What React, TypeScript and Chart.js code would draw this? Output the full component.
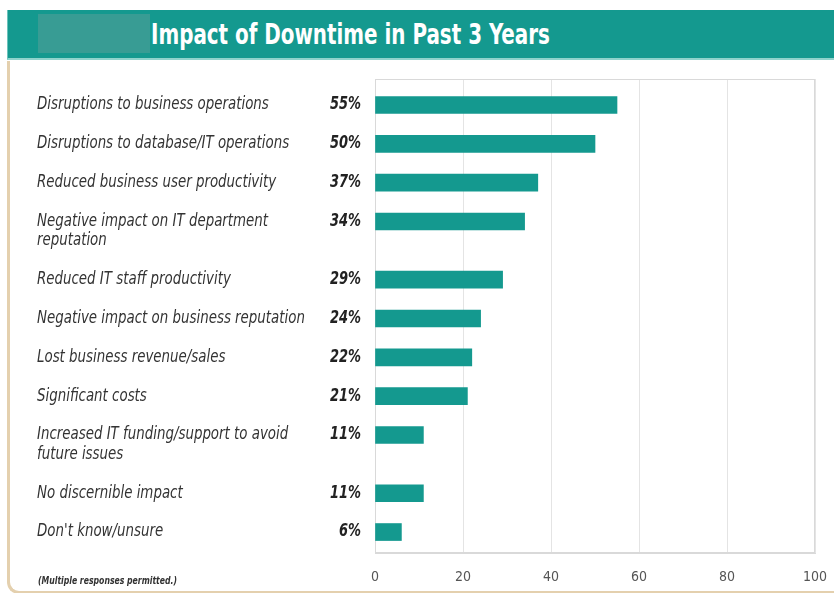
import React, { useEffect, useRef } from "react";
import { Chart, registerables } from "chart.js";

Chart.register(...registerables);

// ---------- data ----------
const chartTitle = "Impact of Downtime in Past 3 Years";
const categories: (string | string[])[] = [
  "Disruptions to business operations",
  "Disruptions to database/IT operations",
  "Reduced business user productivity",
  ["Negative impact on IT department", "reputation"],
  "Reduced IT staff productivity",
  "Negative impact on business reputation",
  "Lost business revenue/sales",
  "Significant costs",
  ["Increased IT funding/support to avoid", "future issues"],
  "No discernible impact",
  "Don't know/unsure",
];
const values = [55, 50, 37, 34, 29, 24, 22, 21, 11, 11, 6];
const valueLabels = values.map((v) => `${v}%`);
const xTickValues = [0, 20, 40, 60, 80, 100];
const footnote = "(Multiple responses permitted.)";

// row positions derived from how many lines each label takes
const lineCounts = categories.map((c) => (Array.isArray(c) ? c.length : 1));
const rowPositions: number[] = [];
{
  let acc = 0;
  lineCounts.forEach((n) => {
    rowPositions.push(acc);
    acc += 1 + 0.5 * (n - 1);
  });
}

const NARROW =
  '"Liberation Sans Narrow", "Arial Narrow", "DejaVu Sans Condensed", "Roboto Condensed", sans-serif';
const TEAL = "#14998f";

function squeezedText(
  ctx: CanvasRenderingContext2D,
  text: string,
  x: number,
  y: number,
  sx: number
) {
  ctx.save();
  ctx.translate(x, y);
  ctx.scale(sx, 1);
  ctx.fillText(text, 0, 0);
  ctx.restore();
}

const labelPlugin = {
  id: "rowLabels",
  beforeDatasetsDraw(chart: any) {
    const { ctx, chartArea } = chart;
    ctx.save();
    ctx.strokeStyle = "#d9d9d9";
    ctx.lineWidth = 1;
    ctx.strokeRect(
      Math.round(chartArea.left) + 0.5,
      Math.round(chartArea.top) + 0.5,
      Math.round(chartArea.right - chartArea.left) - 1,
      Math.round(chartArea.bottom - chartArea.top) - 1
    );
    ctx.restore();
  },
  afterDraw(chart: any) {
    const { ctx } = chart;
    const yScale = chart.scales.y;
    ctx.save();
    ctx.textBaseline = "middle";
    categories.forEach((cat, i) => {
      const y = yScale.getPixelForValue(rowPositions[i]);
      const lines = Array.isArray(cat) ? cat : [cat];
      ctx.font = `italic 17px ${NARROW}`;
      ctx.fillStyle = "#333333";
      ctx.textAlign = "left";
      lines.forEach((ln, k) => squeezedText(ctx, ln, 37, y + k * 19.5, 0.875));
      ctx.font = `italic bold 17px ${NARROW}`;
      ctx.fillStyle = "#222222";
      ctx.textAlign = "right";
      squeezedText(ctx, valueLabels[i], 361, y, 0.85);
    });
    ctx.font = `italic bold 10px ${NARROW}`;
    ctx.fillStyle = "#333333";
    ctx.textAlign = "left";
    squeezedText(ctx, footnote, 38, 581, 0.86);
    ctx.restore();
  },
};

export default function App() {
  const canvasRef = useRef<HTMLCanvasElement | null>(null);

  useEffect(() => {
    if (!canvasRef.current) return;
    const chart = new Chart(canvasRef.current, {
      type: "bar",
      data: {
        datasets: [
          {
            data: values.map((v, i) => ({ x: v, y: rowPositions[i] })),
            backgroundColor: TEAL,
            borderWidth: 0,
            barThickness: 17,
          },
        ],
      },
      options: {
        indexAxis: "y",
        responsive: false,
        animation: false,
        events: [],
        layout: { padding: { left: 375, right: 19, top: 79, bottom: 0 } },
        plugins: {
          legend: { display: false },
          tooltip: { enabled: false },
          title: { display: false },
        },
        scales: {
          x: {
            type: "linear",
            position: "bottom",
            min: 0,
            max: 100,
            afterBuildTicks: (scale: any) => {
              scale.ticks = xTickValues.map((v) => ({ value: v }));
            },
            afterFit: (scale: any) => {
              scale.height = 40;
            },
            ticks: {
              padding: 0,
              color: "#555555",
              font: { family: NARROW, size: 14 },
              maxRotation: 0,
              autoSkip: false,
            },
            grid: {
              color: "#e4e4e4",
              drawTicks: true,
              tickLength: 16,
              tickColor: "rgba(0,0,0,0)",
              lineWidth: 1,
            },
            border: { display: true, color: "#d9d9d9" },
          },
          y: {
            type: "linear",
            display: false,
            reverse: true,
            offset: false,
            min: -0.67,
            max: 11.54,
            grid: { display: false, offset: false },
          },
        },
      } as any,
      plugins: [labelPlugin],
    });
    return () => chart.destroy();
  }, []);

  return (
    <div
      style={{
        position: "fixed",
        left: 0,
        top: 0,
        width: 834,
        height: 593,
        overflow: "hidden",
        background: "#ffffff",
      }}
    >
      {/* title bar */}
      <div
        style={{
          position: "absolute",
          left: 7,
          top: 10,
          width: 827,
          height: 50,
          background: TEAL,
          borderLeft: "1px solid #6cc3bb",
          borderBottom: "2px solid #8fd3cc",
          boxSizing: "border-box",
        }}
      />
      <div
        style={{
          position: "absolute",
          left: 38,
          top: 14,
          width: 112,
          height: 39,
          background: "#389c94",
        }}
      />
      <div
        style={{
          position: "absolute",
          left: 151,
          top: 15,
          height: 40,
          lineHeight: "40px",
          color: "#ffffff",
          fontFamily: NARROW,
          fontWeight: "bold",
          fontSize: 28,
          whiteSpace: "nowrap",
          transform: "scaleX(0.79)",
          transformOrigin: "left center",
        }}
      >
        {chartTitle}
      </div>
      {/* left frame */}
      <div
        style={{
          position: "absolute",
          left: 7,
          top: 61,
          width: 900,
          height: 533,
          borderLeft: "3px solid #e4d0ae",
          borderBottom: "3px solid #e4d0ae",
          borderBottomLeftRadius: 12,
          boxSizing: "border-box",
        }}
      />
      <canvas
        ref={canvasRef}
        width={834}
        height={593}
        style={{ position: "absolute", left: 0, top: 0, width: 834, height: 593 }}
      />
    </div>
  );
}
